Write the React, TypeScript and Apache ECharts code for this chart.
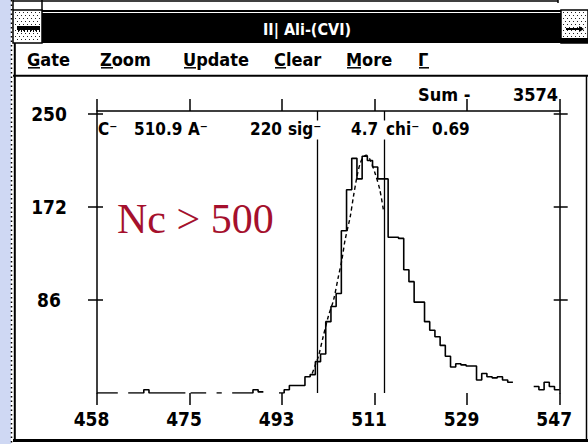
import { useEffect, useRef } from "react";
import * as echarts from "echarts";

// ---- spectrum --------------------------------------------------------------
// Counts per one-unit channel, the first channel starting at firstChannel.
// null marks an empty channel (nothing drawn there).
const firstChannel = 458;
const channelCounts: (number | null)[] = [
  0, 0, 0, 0, null, null, 0, 0, 0, 3, // 458-467
  0, 0, 0, 0, 0, 0, 0, null, 0, 0, // 468-477
  0, null, null, 0, null, null, 0, 0, 0, 0, // 478-487
  3, 1, null, null, null, 0, 3, 7, 7, 7, // 488-497
  15, 17, 29, 36, 66, 80, 92, 150, 188, 217, // 498-507
  198, 219, 215, 209, 198, 198, 144, 144, 143, 114, // 508-517
  103, 84, 84, 66, 58, 52, 44, 34, 24, 27, // 518-527
  26, 25, 25, 12, 18, 15, 14, 15, 12, 10, // 528-537
  null, null, null, null, 6, 3, 10, 6, 3, // 538-546
];

// Fitted peak shape (dashed curve)
const fitX = [499.4, 500.0, 500.6, 501.5, 502.5, 503.5, 504.4, 505.1, 505.7, 506.7, 507.3, 508.0, 508.6, 509.2, 509.8, 510.5, 511.5, 512.4, 513.1];
const fitY = [18, 26, 34, 52, 71, 86, 107, 123, 141, 163, 181, 200, 212, 218, 220, 216, 203, 188, 169];

// Gate limits (vertical markers)
const gateLimits = [500.4, 513.3];

// Axis ticks and their printed labels
const xTickValues = [458, 475.8, 493.6, 511.4, 529.2, 547];
const xTickLabels = ["458", "475", "493", "511", "529", "547"];
const yTickValues = [86, 172, 258];
const yTickLabels = ["86", "172", "250"];

// Fit summary printed along the top of the plot
const fitTokens = ["C\u207B", "510.9", "A\u207B", "220", "sig\u207B", "4.7", "chi\u207B", "0.69"];
const sumLabel = "Sum -";
const sumValue = "3574";
const menuItems = ["Gate", "Zoom", "Update", "Clear", "More", "\u0393"];
const windowTitle = "II| Ali-(CVI)";
const noteText = "Nc > 500";

const X_MIN = 458;
const X_MAX = 547;
const Y_MAX = 260.8;

const FONT = '"DejaVu Sans Condensed", "Liberation Sans Narrow", "DejaVu Sans", sans-serif';
const SERIF = '"Liberation Serif", "Times New Roman", serif';

const labelFor = (values: number[], labels: string[]) => (v: number) => {
  const i = values.findIndex((t) => Math.abs(t - v) < 1e-6);
  return i >= 0 ? labels[i] : "";
};

// histogram outline: flat top across each channel, vertical steps between
function histogramPoints() {
  const pts: (number | string)[][] = [];
  channelCounts.forEach((v, i) => {
    const c = firstChannel + i;
    if (v === null) {
      pts.push([c, "-"]);
      return;
    }
    pts.push([c, v], [c + 1, v]);
  });
  return pts;
}

// ---- window chrome helpers --------------------------------------------------
const rect = (x: number, y: number, w: number, h: number, fill: string, z = 1) => ({
  type: "rect", silent: true, z,
  shape: { x, y, width: w, height: h },
  style: { fill },
});
const seg = (x1: number, y1: number, x2: number, y2: number, w = 1, dash?: number[], z = 1) => ({
  type: "line", silent: true, z,
  shape: { x1, y1, x2, y2 },
  style: { stroke: "#000", lineWidth: w, lineDash: dash },
});
const label = (
  t: string, x: number, y: number, size: number,
  opts: { fill?: string; align?: string; family?: string; weight?: string; z?: number } = {}
) => ({
  type: "text", silent: true, z: opts.z ?? 10, x, y,
  style: {
    text: t,
    fill: opts.fill ?? "#000",
    fontSize: size,
    fontFamily: opts.family ?? FONT,
    fontWeight: opts.weight ?? "bold",
    align: opts.align ?? "left",
    textAlign: opts.align ?? "left",
    verticalAlign: "middle",
    textVerticalAlign: "middle",
  },
});

function dottedBox(x0: number, y0: number, w: number, h: number) {
  const els: any[] = [rect(x0, y0, w, h, "#fff", 2)];
  let row = 0;
  for (let yy = y0 + 2; yy < y0 + h - 1; yy += 3, row++) {
    for (let xx = x0 + 2 + (row % 2) * 2; xx < x0 + w - 1; xx += 4) {
      els.push(rect(xx, yy, 1, 1, "#222", 3));
    }
  }
  return els;
}

function chrome() {
  const els: any[] = [];
  // desktop strip on the left
  els.push(rect(0, 0, 11, 444, "#cfd8f3", 0));
  // window behind (top edge)
  els.push(seg(13, 1, 558, 1, 1.5));
  els.push(seg(558, 0, 558, 3, 1.5));
  els.push(seg(13, 0, 13, 10, 1.5));
  els.push(seg(42, 0, 42, 10, 1.5));
  // title bar
  els.push(seg(42, 11, 561, 11, 2));
  els.push(rect(42, 13, 519, 30, "#000", 2));
  els.push(label(windowTitle, 307, 29, 16, { fill: "#fff", align: "center" }));
  // system menu box
  els.push(...dottedBox(13, 10, 29, 33));
  els.push({ ...rect(13, 10, 29, 33, "none", 4), style: { fill: "none", stroke: "#000", lineWidth: 1.5 } });
  els.push(rect(17, 26, 23, 4, "#000", 4));
  for (let xx = 18; xx < 40; xx += 3) els.push(rect(xx, 30, 1, 2, "#000", 4));
  // size box
  els.push(...dottedBox(561, 10, 27, 33));
  els.push({ ...rect(561, 10, 27, 33, "none", 4), style: { fill: "none", stroke: "#000", lineWidth: 1.5 } });
  els.push(seg(566, 29, 580, 29, 2, undefined, 4));
  els.push({ type: "polygon", silent: true, z: 4, shape: { points: [[584, 29], [579, 26], [579, 32]] }, style: { fill: "#000" } });
  els.push(rect(561, 38, 27, 5, "#000", 4));
  // frame
  els.push(seg(11.5, 0, 11.5, 444, 1.5, [1.5, 3]));
  els.push(seg(14.8, 43, 14.8, 441, 2));
  els.push(seg(13, 75.8, 588, 75.8, 2));
  els.push(seg(586.5, 75, 586.5, 441, 1.5));
  els.push(seg(13, 440.6, 588, 440.6, 3));
  // menu bar
  const menuX = [27, 100, 183, 274, 346, 418];
  const underlineW = [12, 12, 12, 11, 14, 10];
  menuItems.forEach((m, i) => {
    els.push(label(m, menuX[i], 59, 18));
    els.push(seg(menuX[i] + 1, 67.8, menuX[i] + 1 + underlineW[i], 67.8, 1.5));
  });
  // fit summary row (blanks the gate markers behind it)
  els.push(rect(98.5, 120.5, 377, 19, "#fff", 9));
  const tokenX = [98, 134, 188, 250, 288, 351, 386, 432];
  fitTokens.forEach((t, i) => els.push(label(t, tokenX[i], 129, 17)));
  // sum
  els.push(label(sumLabel, 418, 94, 18));
  els.push(label(sumValue, 558, 94, 18, { align: "right" }));
  // note
  els.push(label(noteText, 117, 219, 42, { fill: "#a5102d", family: SERIF, weight: "normal" }));
  return els;
}

const axisText = { color: "#000", fontFamily: FONT, fontWeight: "bold" as const, fontSize: 19 };
const blackLine = { color: "#000", width: 1.5 };

function yAxisCfg(position: "left" | "right", showLine: boolean, inside: boolean, len: number, labels: boolean) {
  return {
    type: "value", position, offset: 0, min: 0, max: Y_MAX,
    splitLine: { show: false },
    axisLine: { show: showLine, onZero: false, lineStyle: blackLine },
    axisTick: { show: true, inside, length: len, customValues: yTickValues, lineStyle: blackLine },
    axisLabel: labels
      ? {
          show: true, customValues: yTickValues, ...axisText,
          formatter: labelFor(yTickValues, yTickLabels),
          align: "center", verticalAlign: "middle", margin: 48, padding: [10, 0, 0, 0],
        }
      : { show: false },
  };
}

export default function App() {
  const ref = useRef<HTMLDivElement>(null);
  useEffect(() => {
    if (!ref.current) return;
    const chart = echarts.init(ref.current, null, { renderer: "svg", width: 588, height: 444 });
    const option: any = {
      animation: false,
      backgroundColor: "#fff",
      grid: { left: 97, right: 588 - 559.7, top: 111, bottom: 51, containLabel: false, outerBoundsMode: "none" },
      xAxis: [
        {
          type: "value", position: "bottom", min: X_MIN, max: X_MAX,
          splitLine: { show: false },
          axisLine: { show: false, onZero: false },
          axisTick: { show: true, length: 12, customValues: xTickValues, lineStyle: blackLine },
          axisLabel: {
            show: true, customValues: xTickValues, ...axisText,
            formatter: labelFor(xTickValues, xTickLabels),
            margin: 16, padding: [0, 11, 0, 0],
          },
        },
        {
          type: "value", position: "top", min: X_MIN, max: X_MAX,
          splitLine: { show: false },
          axisLine: { show: true, onZero: false, lineStyle: blackLine },
          axisTick: { show: true, length: 12, customValues: xTickValues, lineStyle: blackLine },
          axisLabel: { show: false },
        },
      ],
      yAxis: [
        yAxisCfg("left", true, false, 9, true),
        yAxisCfg("left", false, true, 6, false),
        yAxisCfg("right", true, false, 8, false),
        yAxisCfg("right", false, true, 6, false),
      ],
      series: [
        {
          type: "line", name: "counts", xAxisIndex: 0, yAxisIndex: 0,
          data: histogramPoints(),
          showSymbol: false, symbol: "none", connectNulls: false, silent: true, z: 3,
          lineStyle: { color: "#000", width: 1.6 },
          markLine: {
            silent: true, symbol: ["none", "none"], animation: false,
            label: { show: false },
            lineStyle: { color: "#000", width: 1.3, type: "solid" },
            emphasis: { disabled: true },
            data: gateLimits.map((g) => ({ xAxis: g })),
          },
        },
        {
          type: "line", name: "fit", xAxisIndex: 0, yAxisIndex: 0,
          data: fitX.map((x, i) => [x, fitY[i]]),
          showSymbol: false, symbol: "none", silent: true, smooth: 0.3, z: 4,
          lineStyle: { color: "#000", width: 1.4, type: [4, 3] },
        },
      ],
      graphic: { elements: chrome() },
    };
    chart.setOption(option);
    return () => chart.dispose();
  }, []);
  return <div ref={ref} style={{ position: "fixed", left: 0, top: 0, width: 588, height: 444 }} />;
}
